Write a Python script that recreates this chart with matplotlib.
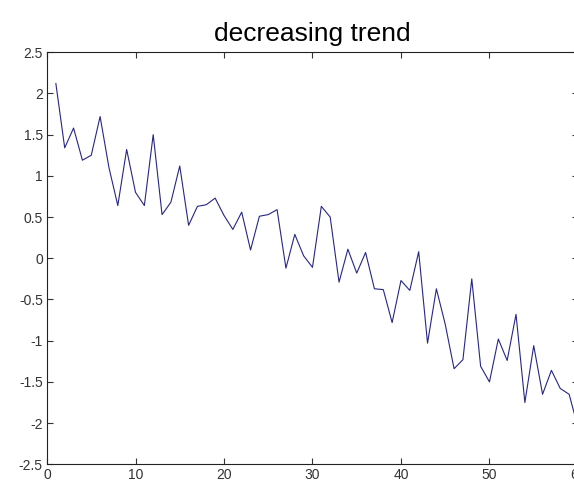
import matplotlib
matplotlib.use("Agg")
import matplotlib.pyplot as plt
from matplotlib.ticker import FuncFormatter

plt.rcParams['font.family'] = ['Liberation Sans', 'DejaVu Sans']
plt.rcParams['axes.unicode_minus'] = False

# sample index and values
x = list(range(1, 61))
y = [2.12, 1.34, 1.58, 1.19, 1.25, 1.72, 1.10, 0.64, 1.32, 0.80,
     0.64, 1.50, 0.53, 0.68, 1.12, 0.40, 0.63, 0.65, 0.73, 0.52,
     0.35, 0.56, 0.10, 0.51, 0.53, 0.59, -0.12, 0.29, 0.03, -0.11,
     0.63, 0.50, -0.29, 0.11, -0.18, 0.07, -0.37, -0.38, -0.78, -0.27,
     -0.39, 0.08, -1.03, -0.37, -0.80, -1.34, -1.23, -0.25, -1.31, -1.50,
     -0.98, -1.24, -0.68, -1.75, -1.06, -1.65, -1.36, -1.58, -1.65, -2.05]

x_ticks = [0, 10, 20, 30, 40, 50, 60]
y_ticks = [-2.5, -2, -1.5, -1, -0.5, 0, 0.5, 1, 1.5, 2, 2.5]
title = "decreasing trend"

fig = plt.figure(figsize=(5.74, 4.90), dpi=100)
ax = fig.add_axes([0.0819, 0.0524, 0.925, 0.841])

ax.plot(x, y, color='#262685', linewidth=0.8)

ax.set_xlim(0, 60)
ax.set_ylim(-2.5, 2.5)
ax.set_xticks(x_ticks)
ax.set_yticks(y_ticks)
ax.yaxis.set_major_formatter(FuncFormatter(lambda v, p: '%g' % v))
ax.tick_params(direction='in', length=4, width=0.8, top=True, right=True,
               labelsize=10, colors='#333333', pad=3)
for s in ax.spines.values():
    s.set_linewidth(0.8)
    s.set_color('#222222')

ax.set_title(title, fontsize=19, pad=8)

fig.savefig("out.png", dpi=100)
